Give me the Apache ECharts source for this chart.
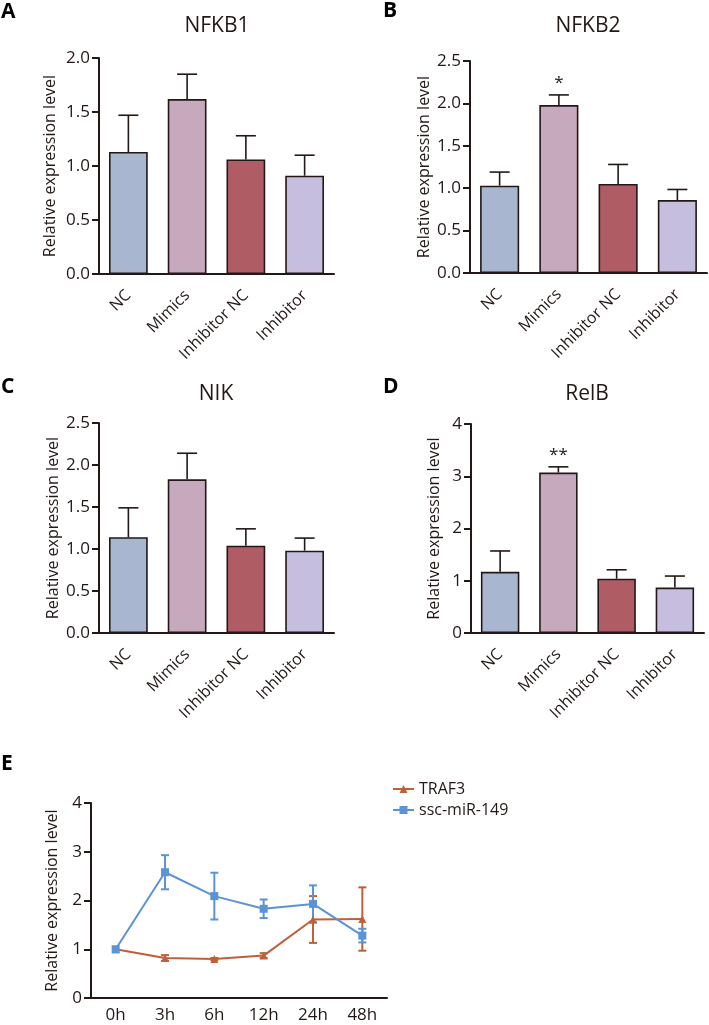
<!DOCTYPE html>
<html>
<head>
<meta charset="utf-8">
<script src="https://cdn.jsdelivr.net/npm/echarts@6/dist/echarts.min.js"></script>
<style>
html,body{margin:0;padding:0;background:#fff;}
#c{width:709px;height:1025px;}
</style>
</head>
<body>
<div id="c"></div>
<script>
// ---------- data ----------
const categories = ['NC', 'Mimics', 'Inhibitor NC', 'Inhibitor'];
const nfkb1Mean = [1.13, 1.62, 1.06, 0.91];
const nfkb1Err  = [0.34, 0.23, 0.22, 0.19];
const nfkb2Mean = [1.03, 1.98, 1.05, 0.86];
const nfkb2Err  = [0.16, 0.12, 0.23, 0.125];
const nfkb2Sig  = ['', '*', '', ''];
const nikMean   = [1.14, 1.83, 1.04, 0.98];
const nikErr    = [0.35, 0.31, 0.20, 0.15];
const relbMean  = [1.17, 3.07, 1.04, 0.87];
const relbErr   = [0.40, 0.11, 0.17, 0.22];
const relbSig   = ['', '**', '', ''];
const timeLabels = ['0h', '3h', '6h', '12h', '24h', '48h'];
const traf3Mean = [1.00, 0.82, 0.80, 0.87, 1.61, 1.62];
const traf3Err  = [0, 0.06, 0.02, 0.05, 0.48, 0.65];
const mirMean   = [1.00, 2.58, 2.09, 1.83, 1.93, 1.28];
const mirErr    = [0, 0.35, 0.48, 0.19, 0.38, 0.14];

// ---------- styles ----------
const FONT = 'Open Sans';
const INK = '#231816';
const barColors = ['#a8b6d0', '#c6a9bd', '#b05c64', '#c6bedf'];
const traf3Color = '#c0603a';
const mirColor = '#5b93d4';

const panels = [
  {title: 'NFKB1', tag: 'A', mean: nfkb1Mean, err: nfkb1Err, sig: null, max: 2, interval: 0.5, dec: 1,
   grid: {left: 99, top: 58, width: 235, height: 216}, nameGap: 41, titlePos: [217, 26], tagPos: [1, 12]},
  {title: 'NFKB2', tag: 'B', mean: nfkb2Mean, err: nfkb2Err, sig: nfkb2Sig, max: 2.5, interval: 0.5, dec: 1,
   grid: {left: 470, top: 61, width: 237, height: 212}, nameGap: 38, titlePos: [588, 26], tagPos: [383, 11]},
  {title: 'NIK', tag: 'C', mean: nikMean, err: nikErr, sig: null, max: 2.5, interval: 0.5, dec: 1,
   grid: {left: 99, top: 423, width: 235, height: 210}, nameGap: 38, titlePos: [216, 394], tagPos: [1, 387]},
  {title: 'RelB', tag: 'D', mean: relbMean, err: relbErr, sig: relbSig, max: 4, interval: 1, dec: 0,
   grid: {left: 471, top: 424, width: 233, height: 209}, nameGap: 29, titlePos: [587, 394], tagPos: [383, 387]}
];

const grids = [], xAxes = [], yAxes = [], series = [], graphics = [];

function yAxisCfg(gi, max, interval, dec, nameGap) {
  return {
    type: 'value', gridIndex: gi, min: 0, max: max, interval: interval,
    name: 'Relative expression level', nameLocation: 'middle', nameGap: nameGap,
    nameTextStyle: {fontFamily: FONT, fontSize: 16, color: INK},
    axisLine: {show: true, lineStyle: {color: INK, width: 2}},
    axisTick: {show: true, length: 7, lineStyle: {color: INK, width: 2}},
    axisLabel: {fontFamily: FONT, fontSize: 17, color: INK, margin: 9,
      formatter: v => v.toFixed(dec)},
    splitLine: {show: false}
  };
}

function barErrRender(sig) {
  return function (params, api) {
    const x = api.value(0), v = api.value(1), e = api.value(2);
    const p0 = api.coord([x, v]);
    const p1 = api.coord([x, v + e]);
    const children = [
      {type: 'line', shape: {x1: p0[0], y1: p0[1], x2: p1[0], y2: p1[1]},
       style: {stroke: INK, lineWidth: 1.6}},
      {type: 'line', shape: {x1: p1[0] - 10, y1: p1[1], x2: p1[0] + 10, y2: p1[1]},
       style: {stroke: INK, lineWidth: 1.6}}
    ];
    if (sig && sig[params.dataIndex]) {
      children.push({type: 'text', x: p1[0], y: p1[1] - 3,
        style: {text: sig[params.dataIndex], font: '17px "' + FONT + '"', fill: INK,
          align: 'center', verticalAlign: 'bottom'}});
    }
    return {type: 'group', children: children};
  };
}

function lineErrRender(color) {
  return function (params, api) {
    const x = api.value(0), v = api.value(1), e = api.value(2);
    if (!e) return null;
    const pt = api.coord([x, v + e]);
    const pb = api.coord([x, v - e]);
    return {type: 'group', children: [
      {type: 'line', shape: {x1: pt[0], y1: pt[1], x2: pb[0], y2: pb[1]}, style: {stroke: color, lineWidth: 2}},
      {type: 'line', shape: {x1: pt[0] - 4, y1: pt[1], x2: pt[0] + 4, y2: pt[1]}, style: {stroke: color, lineWidth: 2}},
      {type: 'line', shape: {x1: pb[0] - 4, y1: pb[1], x2: pb[0] + 4, y2: pb[1]}, style: {stroke: color, lineWidth: 2}}
    ]};
  };
}

panels.forEach((p, i) => {
  grids.push(Object.assign({containLabel: false}, p.grid));
  xAxes.push({
    type: 'category', gridIndex: i, data: categories,
    axisLine: {lineStyle: {color: INK, width: 2}},
    axisTick: {alignWithLabel: true, length: 7, lineStyle: {color: INK, width: 2}},
    axisLabel: {rotate: 45, fontFamily: FONT, fontSize: 16, color: INK, margin: 19, interval: 0}
  });
  yAxes.push(yAxisCfg(i, p.max, p.interval, p.dec, p.nameGap));
  series.push({
    type: 'bar', xAxisIndex: i, yAxisIndex: i, barWidth: '66%',
    data: p.mean.map((v, k) => ({value: v, itemStyle: {color: barColors[k]}})),
    itemStyle: {borderColor: INK, borderWidth: 1.6},
    z: 2
  });
  series.push({
    type: 'custom', xAxisIndex: i, yAxisIndex: i,
    renderItem: barErrRender(p.sig),
    data: p.mean.map((v, k) => [k, v, p.err[k]]),
    z: 3
  });
  graphics.push({type: 'text', x: p.titlePos[0], y: p.titlePos[1],
    style: {text: p.title, font: '21px "' + FONT + '"', fill: INK, align: 'center', verticalAlign: 'middle'}});
  graphics.push({type: 'text', x: p.tagPos[0], y: p.tagPos[1],
    style: {text: p.tag, font: 'bold 21px "' + FONT + '"', fill: '#000', align: 'left', verticalAlign: 'middle'}});
});

// Panel E
const ei = 4;
grids.push({left: 91, top: 803, width: 296, height: 195});
xAxes.push({
  type: 'category', gridIndex: ei, data: timeLabels,
  axisLine: {lineStyle: {color: INK, width: 2}},
  axisTick: {alignWithLabel: true, length: 7, lineStyle: {color: INK, width: 2}},
  axisLabel: {fontFamily: FONT, fontSize: 17, color: INK, margin: 9, interval: 0}
});
yAxes.push(yAxisCfg(ei, 4, 1, 0, 31));
series.push({
  name: 'TRAF3', type: 'line', xAxisIndex: ei, yAxisIndex: ei, data: traf3Mean,
  symbol: 'triangle', symbolSize: 8, color: traf3Color,
  lineStyle: {color: traf3Color, width: 2}, itemStyle: {color: traf3Color}, z: 3
});
series.push({
  type: 'custom', xAxisIndex: ei, yAxisIndex: ei, renderItem: lineErrRender(traf3Color),
  data: traf3Mean.map((v, k) => [k, v, traf3Err[k]]), z: 2
});
series.push({
  name: 'ssc-miR-149', type: 'line', xAxisIndex: ei, yAxisIndex: ei, data: mirMean,
  symbol: 'rect', symbolSize: 8, color: mirColor,
  lineStyle: {color: mirColor, width: 2}, itemStyle: {color: mirColor}, z: 4
});
series.push({
  type: 'custom', xAxisIndex: ei, yAxisIndex: ei, renderItem: lineErrRender(mirColor),
  data: mirMean.map((v, k) => [k, v, mirErr[k]]), z: 2
});
graphics.push({type: 'text', x: 1, y: 764,
  style: {text: 'E', font: 'bold 21px "' + FONT + '"', fill: '#000', align: 'left', verticalAlign: 'middle'}});

const chart = echarts.init(document.getElementById('c'), null, {renderer: 'canvas'});
chart.setOption({
  animation: false,
  backgroundColor: '#fff',
  textStyle: {fontFamily: FONT},
  grid: grids,
  xAxis: xAxes,
  yAxis: yAxes,
  legend: {
    data: ['TRAF3', 'ssc-miR-149'], orient: 'vertical', left: 387, top: 776,
    itemWidth: 21, itemHeight: 10, itemGap: 5,
    textStyle: {fontFamily: FONT, fontSize: 16, color: INK}
  },
  graphic: graphics,
  series: series
});
</script>
</body>
</html>
